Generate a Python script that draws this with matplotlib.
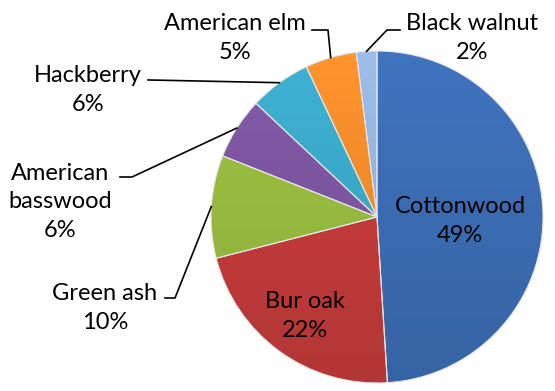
import numpy as np
import matplotlib.pyplot as plt
from matplotlib.colors import to_rgb

plt.rcParams['font.family'] = ['Lato', 'DejaVu Sans']

# Species share of trees
species = ["Cottonwood", "Bur oak", "Green ash", "American\nbasswood",
           "Hackberry", "American elm", "Black walnut"]
share = [49, 22, 10, 6, 6, 5, 2]
colors = ["#3b6cb2", "#c23b3a", "#96b93f", "#7b559f", "#3aa7c6", "#f08a2a", "#93b1dc"]

H = 391


def py(y):
    # layout is given from the top edge; axes y runs upward
    return H - y


# pie geometry, in pixel units of the canvas
cx, cy, r = 377, py(217), 166

fig = plt.figure(figsize=(5.55, 3.91), dpi=100)
ax = fig.add_axes([0, 0, 1, 1])

wedges, _ = ax.pie(share, colors=colors, startangle=90, counterclock=False,
                   center=(cx, cy), radius=r, frame=True,
                   wedgeprops=dict(edgecolor="#e4e4e4", linewidth=0.8))
ax.set_aspect('equal')
ax.axis('off')

# vertical shading: a bit lighter at top, darker at bottom
t = np.linspace(0, 1, 200)[:, None, None]
for w, c in zip(wedges, colors):
    base = np.array(to_rgb(c))[None, None, :]
    img = np.clip(base * (1.07 - 0.15 * t), 0, 1) * np.ones((1, 2, 1))
    im = ax.imshow(img, extent=(cx - r, cx + r, cy - r, cy + r), origin='upper',
                   aspect='auto', zorder=w.get_zorder() + 0.1, interpolation='bilinear')
    im.set_clip_path(w)
    w.set_zorder(w.get_zorder() + 0.2)
    w.set_facecolor('none')
ax.set_xlim(0, 555)
ax.set_ylim(0, H)

fs = 17
ls = 1.45
# inside labels
ax.text(460, py(221), f"{species[0]}\n{share[0]}%", ha='center', va='center',
        fontsize=fs, linespacing=ls, zorder=10)
ax.text(305, py(316), f"{species[1]}\n{share[1]}%", ha='center', va='center',
        fontsize=fs, linespacing=ls, zorder=10)

# outside labels with leader lines: (text x, text y), leader start and elbow
outside = {
    2: ((105, 308), [(165, 298), (175, 298)]),
    3: ((60, 202), [(120, 177), (132, 177)]),
    4: ((88, 90), [(148, 80), (150, 80)]),
    5: ((235, 38), [(312, 30), (328, 30)]),
    6: ((472, 38), [(400, 30), (387, 30)]),
}
cum = np.cumsum([0] + share)
for i, ((tx, ty), pts) in outside.items():
    mid = 90 - 3.6 * (cum[i] + share[i] / 2)
    ex = cx + r * np.cos(np.radians(mid))
    ey = cy + r * np.sin(np.radians(mid))
    xs = [p[0] for p in pts] + [ex]
    ys = [py(p[1]) for p in pts] + [ey]
    ax.plot(xs, ys, color='black', lw=1.2, zorder=10)
    ax.text(tx, py(ty), f"{species[i]}\n{share[i]}%", ha='center', va='center',
            fontsize=fs, linespacing=ls, zorder=10)

fig.savefig("out.png", dpi=100)
